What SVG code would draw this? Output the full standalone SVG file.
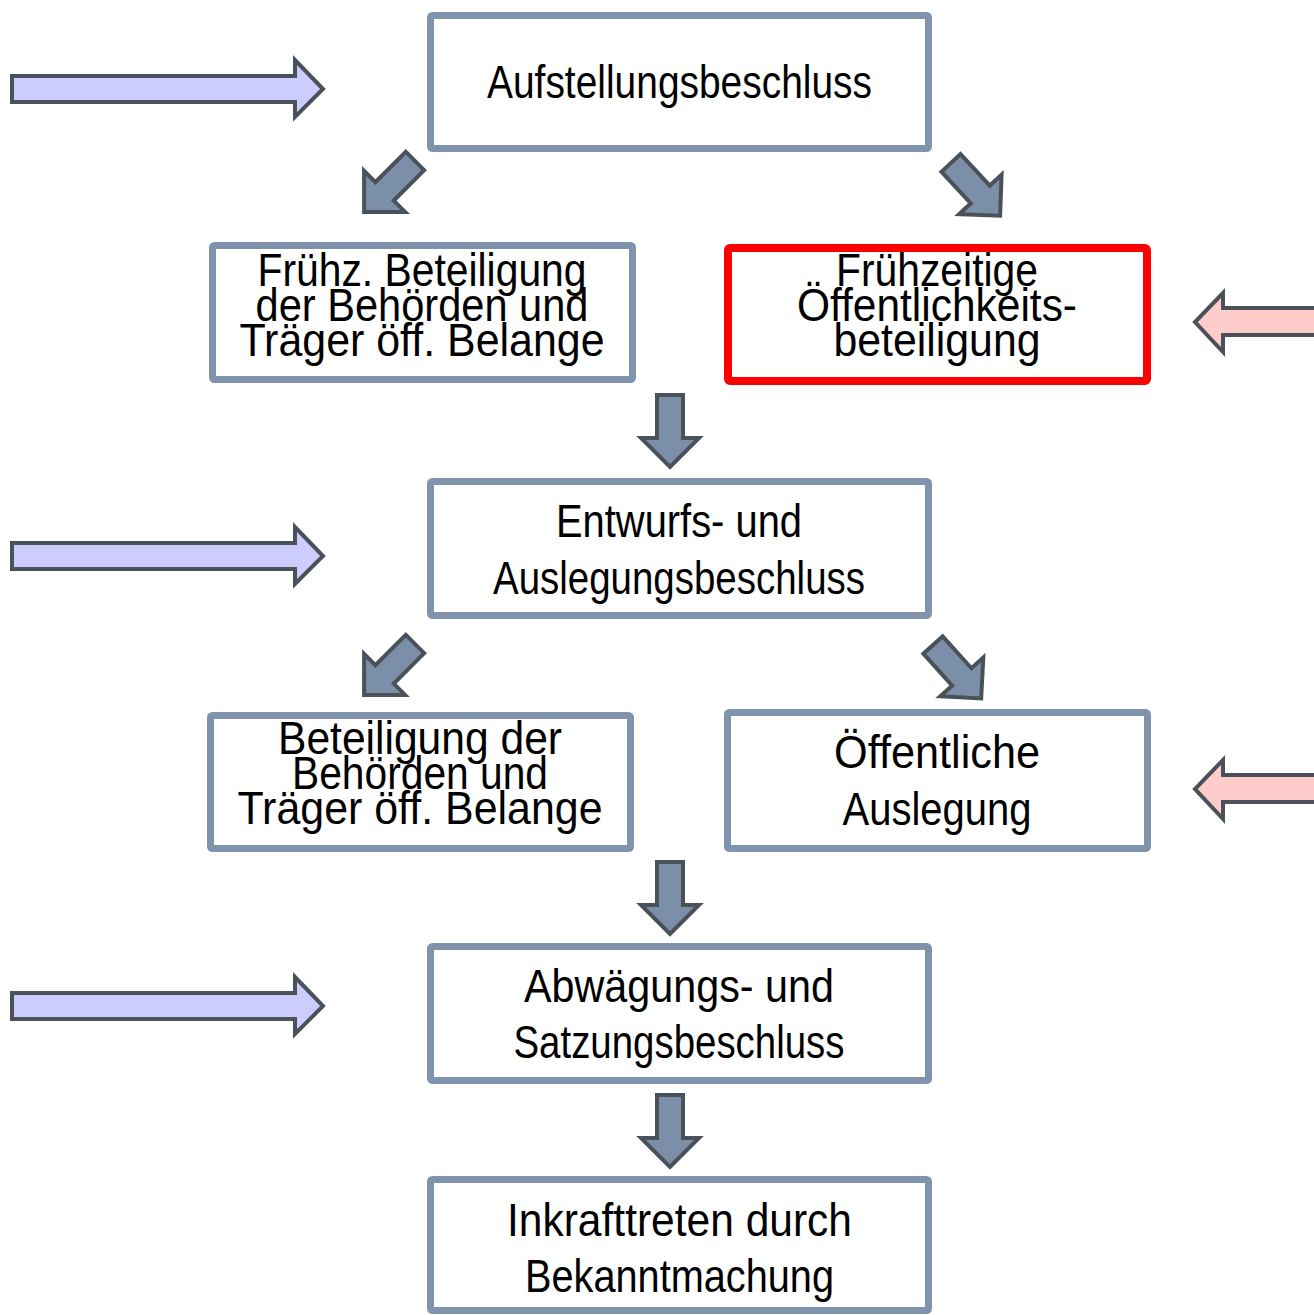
<svg xmlns="http://www.w3.org/2000/svg" width="1314" height="1315" viewBox="0 0 1314 1315">
<defs>
<style>
.box{fill:#ffffff;stroke:#7f93ac;stroke-width:7}
.red{fill:#ffffff;stroke:#ff0000;stroke-width:8}
.t{font-family:"Liberation Sans","DejaVu Sans",Arial,sans-serif;font-size:46px;fill:#000000;text-anchor:middle}
.da{fill:#7b8fa8;stroke:#4b5159;stroke-width:4;stroke-linejoin:miter}
.la{fill:#ccccff;stroke:#4b5159;stroke-width:4}
.pa{fill:#ffcccc;stroke:#4b5159;stroke-width:4}
</style>
<path id="dar" d="M0,-13 L43,-13 L43,-29 L72,0 L43,29 L43,13 L0,13 Z"/>
</defs>
<rect width="1314" height="1315" fill="#ffffff"/>

<g id="connectors">
<use href="#dar" class="da" transform="translate(415,161) rotate(135)"/>
<use href="#dar" class="da" transform="translate(951,163) rotate(47)"/>
<use href="#dar" class="da" transform="translate(670,395) rotate(90)"/>
<use href="#dar" class="da" transform="translate(415,644) rotate(135)"/>
<use href="#dar" class="da" transform="translate(933,645) rotate(48)"/>
<use href="#dar" class="da" transform="translate(670,862) rotate(90)"/>
<use href="#dar" class="da" transform="translate(670,1095) rotate(90)"/>
<path class="la" d="M12,76 L295,76 L295,60 L323,89 L295,117 L295,102 L12,102 Z"/>
<path class="la" d="M12,543 L295,543 L295,527 L323,556 L295,584 L295,569 L12,569 Z"/>
<path class="la" d="M12,993 L295,993 L295,977 L323,1006 L295,1034 L295,1019 L12,1019 Z"/>
<path class="pa" d="M1318,308 L1223,308 L1223,293 L1195,322 L1223,352 L1223,335 L1318,335 Z"/>
<path class="pa" d="M1318,775 L1223,775 L1223,760 L1195,789 L1223,819 L1223,802 L1318,802 Z"/>
</g>

<g id="n1">
<rect class="box" x="430.5" y="15.5" width="498" height="133" rx="2"/>
<text class="t" x="679.5" y="98" textLength="385" lengthAdjust="spacingAndGlyphs">Aufstellungsbeschluss</text>
</g>
<g id="n2">
<rect class="box" x="212.5" y="245.5" width="420" height="134" rx="2"/>
<text class="t" x="422" y="286" textLength="329" lengthAdjust="spacingAndGlyphs">Frühz. Beteiligung</text>
<text class="t" x="422" y="321" textLength="333" lengthAdjust="spacingAndGlyphs">der Behörden und</text>
<text class="t" x="422" y="356" textLength="365" lengthAdjust="spacingAndGlyphs">Träger öff. Belange</text>
</g>
<g id="n3">
<rect class="red" x="728" y="248" width="419" height="133" rx="2"/>
<text class="t" x="937" y="286" textLength="202" lengthAdjust="spacingAndGlyphs">Frühzeitige</text>
<text class="t" x="937" y="321" textLength="280" lengthAdjust="spacingAndGlyphs">Öffentlichkeits-</text>
<text class="t" x="937" y="356" textLength="207" lengthAdjust="spacingAndGlyphs">beteiligung</text>
</g>
<g id="n4">
<rect class="box" x="430.5" y="481.5" width="498" height="134" rx="2"/>
<text class="t" x="679" y="537" textLength="246" lengthAdjust="spacingAndGlyphs">Entwurfs- und</text>
<text class="t" x="679" y="594" textLength="372" lengthAdjust="spacingAndGlyphs">Auslegungsbeschluss</text>
</g>
<g id="n5">
<rect class="box" x="210.5" y="715.5" width="420" height="133" rx="2"/>
<text class="t" x="420" y="754" textLength="284" lengthAdjust="spacingAndGlyphs">Beteiligung der</text>
<text class="t" x="420" y="789" textLength="256" lengthAdjust="spacingAndGlyphs">Behörden und</text>
<text class="t" x="420" y="824" textLength="365" lengthAdjust="spacingAndGlyphs">Träger öff. Belange</text>
</g>
<g id="n6">
<rect class="box" x="727.5" y="712.5" width="420" height="136" rx="2"/>
<text class="t" x="937" y="768" textLength="206" lengthAdjust="spacingAndGlyphs">Öffentliche</text>
<text class="t" x="937" y="825" textLength="189" lengthAdjust="spacingAndGlyphs">Auslegung</text>
</g>
<g id="n7">
<rect class="box" x="430.5" y="946.5" width="498" height="134" rx="2"/>
<text class="t" x="679" y="1002" textLength="310" lengthAdjust="spacingAndGlyphs">Abwägungs- und</text>
<text class="t" x="679" y="1058" textLength="331" lengthAdjust="spacingAndGlyphs">Satzungsbeschluss</text>
</g>
<g id="n8">
<rect class="box" x="430.5" y="1179.5" width="498" height="131" rx="2"/>
<text class="t" x="679.5" y="1236" textLength="345" lengthAdjust="spacingAndGlyphs">Inkrafttreten durch</text>
<text class="t" x="679.5" y="1292" textLength="309" lengthAdjust="spacingAndGlyphs">Bekanntmachung</text>
</g>
</svg>
